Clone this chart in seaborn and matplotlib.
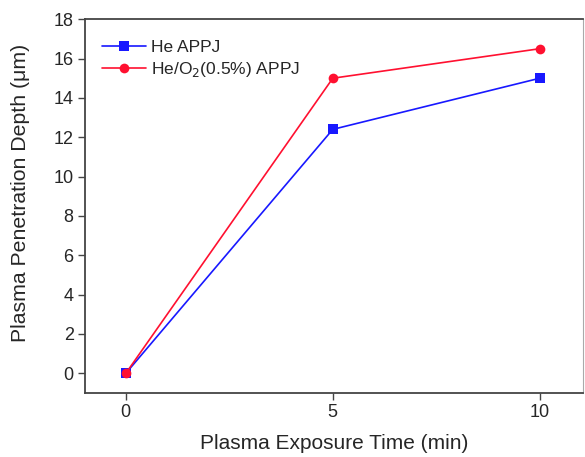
import matplotlib
matplotlib.use("Agg")
import matplotlib.pyplot as plt
import seaborn as sns
import pandas as pd

time_min = [0, 5, 10]
he_depth = [0.0, 12.4, 15.0]
heo2_depth = [0.0, 15.0, 16.5]
series_names = ["He APPJ", "He/O$_2$(0.5%) APPJ"]

df = pd.DataFrame({
    "time": time_min * 2,
    "depth": he_depth + heo2_depth,
    "series": [series_names[0]] * 3 + [series_names[1]] * 3,
})

sns.set_theme(style="ticks")
plt.rcParams['font.family'] = ['Liberation Sans', 'DejaVu Sans']

fig = plt.figure(figsize=(5.85, 4.57), dpi=100)
ax = fig.add_axes([0.145, 0.140, 0.852, 0.818])

sns.lineplot(data=df, x="time", y="depth", hue="series", style="series",
             palette={series_names[0]: "#1818ff", series_names[1]: "#ff1030"},
             markers={series_names[0]: "s", series_names[1]: "o"},
             dashes=False, markersize=7, markeredgewidth=0, linewidth=1.2, ax=ax)

ax.set_xlim(-0.99, 11.05)
ax.set_ylim(-1.0, 18)
ax.set_xticks([0, 5, 10])
ax.set_yticks(range(0, 19, 2))
ax.set_xlabel("Plasma Exposure Time (min)", fontsize=15, labelpad=9)
ax.set_ylabel("Plasma Penetration Depth (\u03bcm)", fontsize=15.3)
ax.yaxis.set_label_coords(-0.11, 0.535)
ax.tick_params(axis='both', labelsize=13, length=5, width=1, color="#444444", direction="out", pad=3)
for s in ["left", "bottom", "top"]:
    ax.spines[s].set_color("#444444")
    ax.spines[s].set_linewidth(1.3)
ax.spines["right"].set_color("#aaaaaa")
ax.spines["right"].set_linewidth(0.8)

leg = ax.legend(loc="upper left", frameon=False, fontsize=12.5, handlelength=2.5,
                bbox_to_anchor=(0.0, 0.99), borderaxespad=0.6, labelspacing=0.25, handletextpad=0.3)

fig.savefig("out.png", dpi=100)
